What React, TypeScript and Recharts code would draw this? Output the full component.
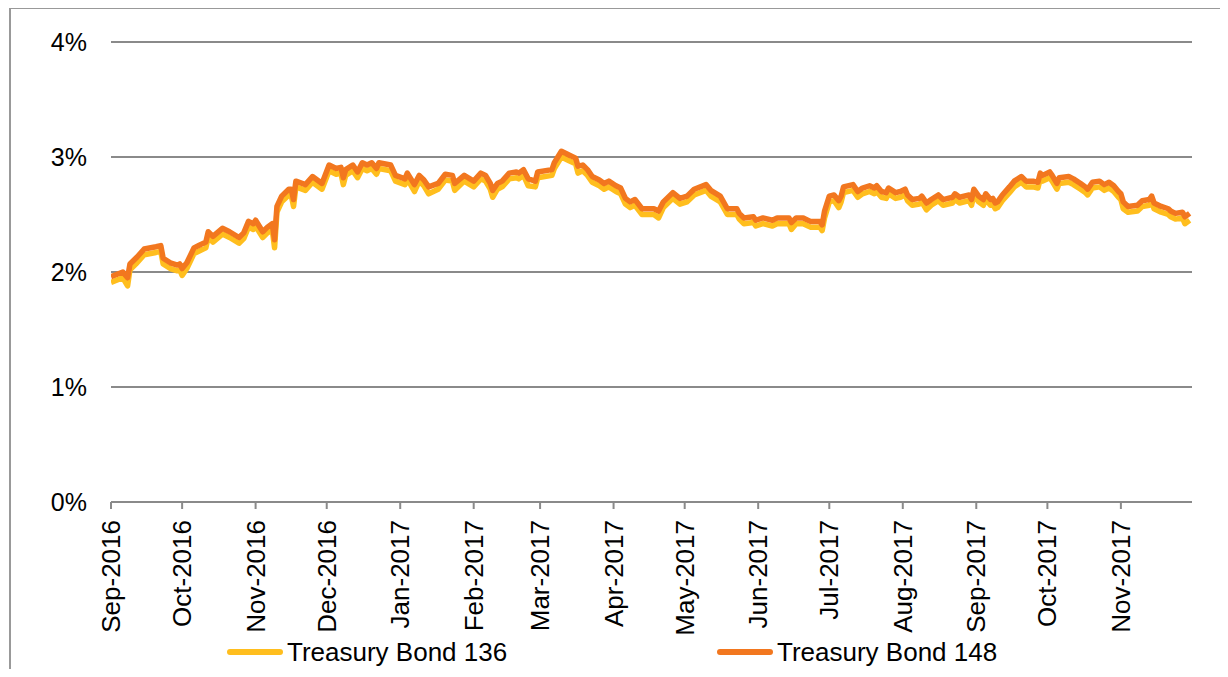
import React from 'react';
import { LineChart, Line, XAxis, YAxis, CartesianGrid, Legend } from 'recharts';

const dates = [
  '2016-09-01','2016-09-06','2016-09-08','2016-09-09','2016-09-12','2016-09-15','2016-09-20','2016-09-22','2016-09-23','2016-09-26',
  '2016-09-29','2016-09-30','2016-10-01','2016-10-03','2016-10-06','2016-10-08','2016-10-11','2016-10-12','2016-10-14','2016-10-18',
  '2016-10-21','2016-10-25','2016-10-27','2016-10-29','2016-10-31','2016-11-01','2016-11-04','2016-11-06','2016-11-08','2016-11-09',
  '2016-11-10','2016-11-12','2016-11-15','2016-11-16','2016-11-17','2016-11-18','2016-11-22','2016-11-25','2016-11-29','2016-12-02',
  '2016-12-05','2016-12-07','2016-12-08','2016-12-09','2016-12-12','2016-12-14','2016-12-16','2016-12-18','2016-12-20','2016-12-22',
  '2016-12-23','2016-12-28','2016-12-30','2017-01-03','2017-01-04','2017-01-07','2017-01-09','2017-01-11','2017-01-13','2017-01-17',
  '2017-01-20','2017-01-23','2017-01-24','2017-01-28','2017-02-01','2017-02-04','2017-02-06','2017-02-08','2017-02-09','2017-02-11',
  '2017-02-13','2017-02-16','2017-02-19','2017-02-20','2017-02-22','2017-02-24','2017-02-27','2017-02-28','2017-03-06','2017-03-07',
  '2017-03-10','2017-03-13','2017-03-16','2017-03-17','2017-03-19','2017-03-21','2017-03-23','2017-03-26','2017-03-28','2017-03-30',
  '2017-04-02','2017-04-04','2017-04-06','2017-04-08','2017-04-10','2017-04-13','2017-04-18','2017-04-20','2017-04-22','2017-04-26',
  '2017-04-29','2017-05-02','2017-05-05','2017-05-10','2017-05-12','2017-05-16','2017-05-19','2017-05-23','2017-05-24','2017-05-26',
  '2017-05-30','2017-05-31','2017-06-03','2017-06-07','2017-06-09','2017-06-14','2017-06-15','2017-06-17','2017-06-20','2017-06-23',
  '2017-06-27','2017-06-28','2017-06-29','2017-07-01','2017-07-03','2017-07-05','2017-07-06','2017-07-07','2017-07-11','2017-07-13',
  '2017-07-15','2017-07-18','2017-07-20','2017-07-21','2017-07-23','2017-07-25','2017-07-26','2017-07-29','2017-07-31','2017-08-02',
  '2017-08-03','2017-08-05','2017-08-08','2017-08-09','2017-08-11','2017-08-13','2017-08-16','2017-08-18','2017-08-22','2017-08-23',
  '2017-08-25','2017-08-29','2017-08-30','2017-08-31','2017-09-02','2017-09-04','2017-09-05','2017-09-07','2017-09-08','2017-09-09',
  '2017-09-10','2017-09-12','2017-09-15','2017-09-17','2017-09-20','2017-09-22','2017-09-25','2017-09-27','2017-09-28','2017-09-29',
  '2017-10-02','2017-10-03','2017-10-05','2017-10-06','2017-10-10','2017-10-12','2017-10-15','2017-10-17','2017-10-18','2017-10-20',
  '2017-10-23','2017-10-25','2017-10-27','2017-10-29','2017-10-31','2017-11-01','2017-11-02','2017-11-04','2017-11-08','2017-11-10',
  '2017-11-13','2017-11-14','2017-11-15','2017-11-18','2017-11-21','2017-11-22','2017-11-24','2017-11-27','2017-11-28','2017-11-30',
];

const bond148 = [
  1.96,2.00,1.95,2.07,2.13,2.20,2.22,2.23,2.12,2.08,
  2.06,2.07,2.03,2.08,2.21,2.23,2.26,2.35,2.31,2.38,
  2.35,2.30,2.34,2.44,2.42,2.45,2.35,2.39,2.42,2.28,
  2.57,2.66,2.72,2.72,2.63,2.79,2.76,2.83,2.77,2.93,
  2.90,2.91,2.82,2.89,2.93,2.87,2.95,2.93,2.95,2.90,
  2.95,2.93,2.84,2.81,2.86,2.76,2.84,2.80,2.74,2.77,
  2.85,2.84,2.77,2.84,2.79,2.86,2.84,2.77,2.71,2.77,
  2.79,2.86,2.87,2.86,2.89,2.81,2.79,2.87,2.89,2.95,
  3.05,3.02,2.99,2.92,2.93,2.89,2.83,2.80,2.77,2.79,
  2.75,2.73,2.64,2.61,2.63,2.55,2.55,2.53,2.61,2.69,
  2.64,2.66,2.72,2.76,2.71,2.66,2.55,2.55,2.51,2.47,
  2.48,2.45,2.47,2.45,2.47,2.47,2.43,2.47,2.47,2.44,
  2.44,2.41,2.53,2.66,2.67,2.62,2.66,2.74,2.76,2.70,
  2.73,2.75,2.73,2.75,2.70,2.69,2.73,2.69,2.70,2.72,
  2.67,2.63,2.64,2.66,2.60,2.63,2.67,2.63,2.65,2.68,
  2.65,2.67,2.63,2.72,2.66,2.63,2.68,2.63,2.64,2.60,
  2.61,2.67,2.74,2.79,2.83,2.79,2.79,2.78,2.86,2.84,
  2.87,2.84,2.77,2.82,2.83,2.81,2.77,2.74,2.72,2.78,
  2.79,2.76,2.78,2.75,2.70,2.68,2.61,2.57,2.58,2.62,
  2.63,2.66,2.60,2.57,2.55,2.53,2.51,2.52,2.48,2.51,
];

const bond136 = [
  1.91,1.95,1.88,2.02,2.08,2.15,2.17,2.18,2.07,2.03,
  2.01,2.02,1.97,2.03,2.16,2.18,2.21,2.30,2.26,2.33,
  2.30,2.25,2.29,2.39,2.37,2.40,2.30,2.34,2.37,2.21,
  2.52,2.61,2.67,2.67,2.57,2.74,2.71,2.78,2.72,2.88,
  2.85,2.86,2.76,2.84,2.88,2.82,2.90,2.88,2.90,2.85,
  2.90,2.88,2.79,2.76,2.81,2.70,2.79,2.75,2.68,2.72,
  2.80,2.79,2.71,2.79,2.74,2.81,2.79,2.72,2.65,2.72,
  2.74,2.81,2.82,2.81,2.84,2.75,2.74,2.82,2.84,2.90,
  3.00,2.97,2.94,2.86,2.88,2.84,2.78,2.75,2.72,2.74,
  2.70,2.68,2.59,2.56,2.58,2.50,2.50,2.47,2.56,2.64,
  2.59,2.61,2.67,2.71,2.66,2.61,2.50,2.50,2.46,2.42,
  2.43,2.40,2.42,2.40,2.42,2.42,2.37,2.42,2.42,2.39,
  2.39,2.36,2.47,2.61,2.62,2.56,2.61,2.69,2.71,2.65,
  2.68,2.70,2.68,2.70,2.65,2.64,2.68,2.64,2.65,2.67,
  2.62,2.58,2.59,2.61,2.54,2.58,2.62,2.58,2.60,2.63,
  2.60,2.62,2.58,2.67,2.61,2.58,2.63,2.58,2.59,2.55,
  2.56,2.62,2.69,2.74,2.78,2.74,2.74,2.73,2.81,2.79,
  2.82,2.79,2.72,2.77,2.78,2.76,2.72,2.69,2.67,2.73,
  2.74,2.71,2.73,2.70,2.65,2.63,2.55,2.52,2.53,2.57,
  2.58,2.61,2.55,2.52,2.50,2.48,2.46,2.47,2.42,2.45,
];

const monthTickDates = [
  '2016-09-01','2016-10-01','2016-11-01','2016-12-01','2017-01-01','2017-02-01','2017-03-01','2017-04-01',
  '2017-05-01','2017-06-01','2017-07-01','2017-08-01','2017-09-01','2017-10-01','2017-11-01',
];
const monthTickLabels = [
  'Sep-2016','Oct-2016','Nov-2016','Dec-2016','Jan-2017','Feb-2017','Mar-2017','Apr-2017',
  'May-2017','Jun-2017','Jul-2017','Aug-2017','Sep-2017','Oct-2017','Nov-2017',
];
const domainStart = '2016-09-01';
const domainEnd = '2017-12-01';
const yTicks = [0, 1, 2, 3, 4];

const seriesNames = ['Treasury Bond 136', 'Treasury Bond 148'];
const seriesColors = ['#FFBE1E', '#F2771F'];

const toTs = (d: string) => Date.parse(d + 'T00:00:00Z');

const data = dates.map((d, i) => ({ t: toTs(d), b136: bond136[i], b148: bond148[i] }));
const tickTs = monthTickDates.map(toTs);
const labelByTs: Record<number, string> = {};
tickTs.forEach((t, i) => { labelByTs[t] = monthTickLabels[i]; });

const FONT = '"Liberation Sans", Arial, sans-serif';

const XTick = (props: any) => {
  const { x, y, payload } = props;
  return (
    <g transform={`translate(${x},${y})`}>
      <text
        transform="rotate(-90)"
        textAnchor="end"
        dominantBaseline="central"
        fontFamily={FONT}
        fontSize={26}
        fill="#000"
      >
        {labelByTs[payload.value]}
      </text>
    </g>
  );
};

const renderLegend = () => {
  const lefts = [227, 717];
  return (
    <div style={{ position: 'relative', width: 1228, height: 32, fontFamily: FONT, fontSize: 26, color: '#000' }}>
      {seriesNames.map((n, i) => (
        <React.Fragment key={n}>
          <div style={{ position: 'absolute', left: lefts[i], top: 13, width: 56, height: 6, borderRadius: 3, background: seriesColors[i] }} />
          <div style={{ position: 'absolute', left: lefts[i] + 60, top: 0, height: 32, lineHeight: '32px', whiteSpace: 'nowrap' }}>{n}</div>
        </React.Fragment>
      ))}
    </div>
  );
};

export default function App() {
  return (
    <div style={{ position: 'relative', margin: -8, width: 1228, height: 677, overflow: 'hidden', background: '#fff' }}>
      <div style={{ position: 'absolute', left: 9, top: 7, width: 1240, height: 700, borderLeft: '2px solid #999', borderTop: '2px solid #999' }} />
      <div style={{ position: 'absolute', left: 0, top: 0 }}>
        <LineChart width={1228} height={677} data={data} margin={{ top: 42, right: 36, bottom: 0, left: 0 }}>
          <CartesianGrid vertical={false} stroke="#8a8a8a" strokeWidth={2} />
          <XAxis
            dataKey="t"
            type="number"
            scale="time"
            domain={[toTs(domainStart), toTs(domainEnd)]}
            ticks={tickTs}
            interval={0}
            height={175}
            tick={<XTick />}
            tickSize={7}
            tickMargin={11}
            stroke="#8a8a8a"
            axisLine={{ stroke: '#8a8a8a', strokeWidth: 2 }}
            tickLine={{ stroke: '#8a8a8a', strokeWidth: 2 }}
            allowDataOverflow
          />
          <YAxis
            type="number"
            domain={[0, 4]}
            ticks={yTicks}
            width={111}
            axisLine={false}
            tickLine={false}
            tickSize={16}
            tickMargin={8}
            tickFormatter={(v: number) => `${v}%`}
            tick={{ fill: '#000', fontSize: 25, fontFamily: FONT }}
          />
          <Legend
            layout="horizontal"
            verticalAlign="middle"
            align="center"
            content={renderLegend}
            wrapperStyle={{ top: 636, left: 0, width: 1228, height: 32 }}
          />
          <Line
            type="linear"
            dataKey="b136"
            name={seriesNames[0]}
            stroke={seriesColors[0]}
            strokeWidth={5.5}
            dot={false}
            strokeLinejoin="round"
            isAnimationActive={false}
          />
          <Line
            type="linear"
            dataKey="b148"
            name={seriesNames[1]}
            stroke={seriesColors[1]}
            strokeWidth={5.5}
            dot={false}
            strokeLinejoin="round"
            isAnimationActive={false}
          />
        </LineChart>
      </div>
    </div>
  );
}
